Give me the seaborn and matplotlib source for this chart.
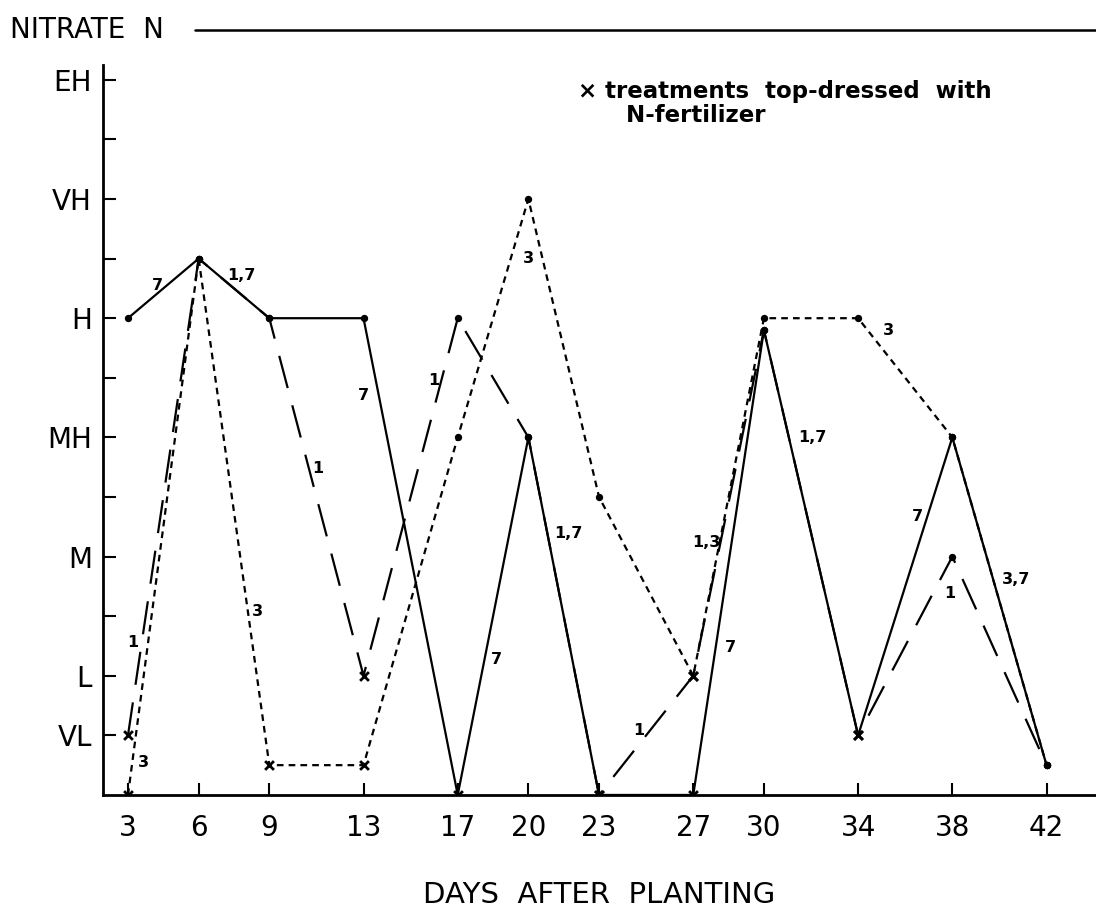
import numpy as np
import pandas as pd
import seaborn as sns
import matplotlib.pyplot as plt
from matplotlib.lines import Line2D

# nitrate-N rating per treatment
days = [3, 6, 9, 13, 17, 20, 23, 27, 30, 34, 38, 42]
trt1 = [1, 9, 8, 2, 8, 6, 0, 2, 7.8, 1, 4, 0.5]
trt3 = [0, 9, 0.5, 0.5, 6, 10, 5, 2, 8, 8, 6, 0.5]
trt7 = [8, 9, 8, 8, 0, 6, 0, 0, 7.8, 1, 6, 0.5]

# True where the treatment was top-dressed (drawn with an x)
dressed1 = [1, 0, 0, 1, 0, 0, 1, 1, 0, 1, 0, 0]
dressed3 = [1, 0, 1, 1, 0, 0, 0, 1, 0, 0, 0, 0]
dressed7 = [0, 0, 0, 0, 1, 0, 1, 1, 0, 1, 0, 0]

level_ticks = [1, 2, 4, 6, 8, 10, 12]
level_names = ["VL", "L", "M", "MH", "H", "VH", "EH"]

# treatment numbers written next to the lines
seg_labels = ["7", "1,7", "7", "1", "3", "1", "3", "1", "3", "1,7", "7",
              "1", "1,3", "7", "1,7", "3", "7", "1", "3,7"]
seg_x = [4.25, 7.8, 13.0, 11.05, 8.5, 3.2, 3.65, 16.0, 20.0, 21.7, 18.65,
         24.7, 27.55, 28.6, 32.05, 35.3, 36.5, 37.9, 40.7]
seg_y = [8.55, 8.72, 6.7, 5.47, 3.08, 2.55, 0.55, 6.95, 9.0, 4.38, 2.28,
         1.08, 4.23, 2.47, 6.0, 7.8, 4.67, 3.38, 3.62]

frames = []
for name, vals, flags in [("1", trt1, dressed1), ("3", trt3, dressed3), ("7", trt7, dressed7)]:
    frames.append(pd.DataFrame({"day": days, "level": vals,
                                "treatment": name, "dressed": [bool(f) for f in flags]}))
df = pd.concat(frames, ignore_index=True)

sns.set_style("ticks")
plt.rcParams['font.family'] = ['DejaVu Sans']
plt.rcParams['text.color'] = 'black'
plt.rcParams['axes.labelcolor'] = 'black'

fig = plt.figure(figsize=(10.96, 9.08), dpi=100)
ax = fig.add_axes([0.094, 0.1245, 0.906, 0.804])

sns.lineplot(data=df, x="day", y="level", style="treatment", color="black",
             dashes={"1": (15, 8), "3": (3, 2.3), "7": ""}, linewidth=1.6,
             errorbar=None, sort=False, legend=False, ax=ax)

sns.scatterplot(data=df[~df.dressed], x="day", y="level", color="black",
                marker="o", s=28, edgecolor="black", linewidth=0, legend=False,
                ax=ax, zorder=5)
sns.scatterplot(data=df[df.dressed], x="day", y="level", color="black",
                marker="x", s=40, linewidth=2, legend=False, ax=ax, zorder=5)

for t, x, y in zip(seg_labels, seg_x, seg_y):
    ax.text(x, y, t, fontsize=11.5, fontweight="bold", ha="center", va="center")

ax.text(0.478, 0.98, "\u00d7 treatments  top-dressed  with\n      N-fertilizer",
        transform=ax.transAxes, fontsize=16.5, fontweight="bold",
        ha="left", va="top", linespacing=1.1)

ax.set_xlim(1.94, 44.1)
ax.set_ylim(0, 12.25)
ax.set_xticks(days)
ax.set_xticklabels([str(d) for d in days], fontsize=20)
ax.set_yticks(range(1, 13))
ax.set_yticklabels([level_names[level_ticks.index(v)] if v in level_ticks else ""
                    for v in range(1, 13)], fontsize=20)
ax.tick_params(axis="both", direction="in", length=9, width=1.5, colors="black")
ax.tick_params(axis="x", pad=14)
ax.tick_params(axis="y", pad=8)
ax.set_xlabel("DAYS  AFTER  PLANTING", fontsize=21, labelpad=28)
ax.set_ylabel("")
sns.despine(ax=ax)
for s in ["left", "bottom"]:
    ax.spines[s].set_linewidth(2)
    ax.spines[s].set_color("black")

fig.text(0.009, 1 - 30 / 908, "NITRATE  N", fontsize=20, ha="left", va="center")
fig.add_artist(Line2D([0.178, 1.0], [1 - 30 / 908, 1 - 30 / 908],
                      color="black", linewidth=1.8))

fig.savefig("out.png", dpi=100)
